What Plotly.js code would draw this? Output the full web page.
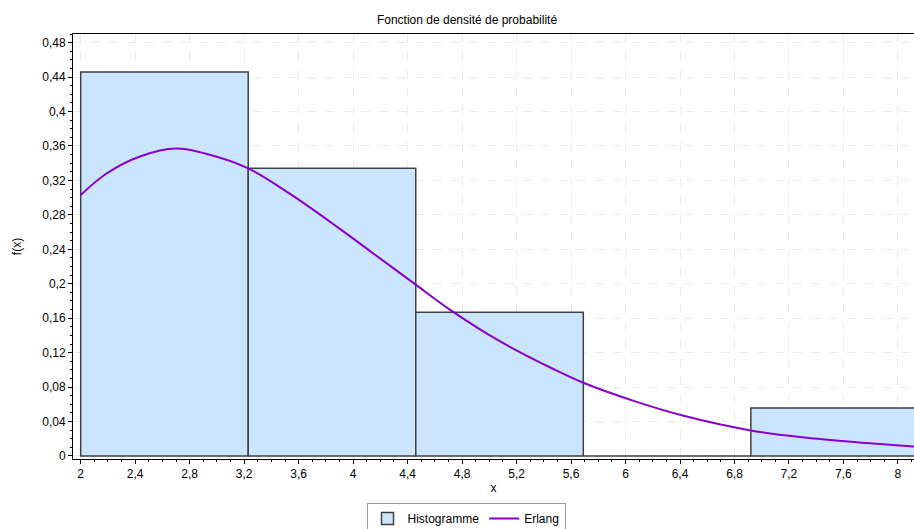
<!DOCTYPE html>
<html>
<head>
<meta charset="utf-8">
<script src="https://cdn.plot.ly/plotly-3.0.1.min.js"></script>
<style>html,body{margin:0;padding:0;background:#fff;}#chart{width:914px;height:529px;}</style>
</head>
<body>
<div id="chart"></div>
<script>
// Histogram bin edges and densities
const binEdges = [2, 3.23, 4.46, 5.69, 6.92, 8.15];
const histDensity = [0.446, 0.334, 0.167, 0, 0.0557];

// Erlang density curve
const erlangX = [2.00, 2.19, 2.44, 2.70, 2.92, 3.23, 3.54, 3.90, 4.27, 4.46, 4.71, 5.08, 5.47, 5.69, 6.06, 6.42, 6.91, 7.28, 7.77, 8.12];
const erlangY = [0.303, 0.328, 0.348, 0.357, 0.351, 0.334, 0.304, 0.264, 0.221, 0.199, 0.170, 0.133, 0.101, 0.085, 0.064, 0.047, 0.030, 0.022, 0.015, 0.011];

const yTicks = [0, 0.04, 0.08, 0.12, 0.16, 0.2, 0.24, 0.28, 0.32, 0.36, 0.4, 0.44, 0.48];
const xTicks = [2, 2.4, 2.8, 3.2, 3.6, 4, 4.4, 4.8, 5.2, 5.6, 6, 6.4, 6.8, 7.2, 7.6, 8];

const centers = [], widths = [];
for (let i = 0; i < histDensity.length; i++) {
  centers.push((binEdges[i] + binEdges[i + 1]) / 2);
  widths.push(binEdges[i + 1] - binEdges[i]);
}

const font = {family: 'Liberation Sans, Arial, sans-serif', size: 12, color: '#000'};

const traces = [
  {
    type: 'bar', name: 'Histogramme', x: centers, y: histDensity, width: widths,
    marker: {color: '#cce5ff', line: {color: '#404040', width: 1.5}},
    hoverinfo: 'x+y'
  },
  {
    type: 'scatter', mode: 'lines', name: 'Erlang', x: erlangX, y: erlangY,
    line: {color: '#8800cc', width: 2, shape: 'spline', smoothing: 1}
  }
];

const layout = {
  width: 914, height: 529,
  margin: {l: 73, r: 0, t: 34, b: 70},
  paper_bgcolor: '#fff', plot_bgcolor: '#fff',
  separators: ', ',
  font: font,
  title: {text: 'Fonction de densité de probabilité', font: {family: font.family, size: 12, color: '#000'},
          x: 467 / 914, xref: 'container', xanchor: 'center', y: 1 - 20 / 529, yref: 'container', yanchor: 'middle'},
  bargap: 0,
  showlegend: true,
  legend: {orientation: 'h', xref: 'container', yref: 'container', x: 466 / 914, xanchor: 'center',
           y: 1 - 503 / 529, yanchor: 'top', bordercolor: '#999', borderwidth: 1, font: font,
           tracegroupgap: 0, itemwidth: 30},
  xaxis: {
    range: [1.9435, 8.118], tickvals: xTicks, ticktext: xTicks.map(v => String(v).replace('.', ',')),
    showgrid: true, gridcolor: '#ebebeb', griddash: 'dash', gridwidth: 1,
    zeroline: false, showline: true, linecolor: '#000', linewidth: 1, mirror: true,
    ticks: 'outside', ticklen: 4, tickcolor: '#000', tickfont: font,
    minor: {dtick: 0.1, tick0: 2, ticks: 'outside', ticklen: 2, tickcolor: '#000', showgrid: false},
    title: {text: 'x', font: font, standoff: 3},
    fixedrange: true
  },
  yaxis: {
    range: [-0.0035, 0.490], tickvals: yTicks, ticktext: yTicks.map(v => String(v).replace('.', ',')),
    showgrid: true, gridcolor: '#ebebeb', griddash: 'dash', gridwidth: 1,
    zeroline: false, showline: true, linecolor: '#000', linewidth: 1,
    ticks: 'outside', ticklen: 4, tickcolor: '#000', tickfont: font,
    minor: {dtick: 0.01, tick0: 0, ticks: 'outside', ticklen: 2, tickcolor: '#000', showgrid: false},
    title: {text: 'f(x)', font: font, standoff: 18},
    fixedrange: true
  }
};

Plotly.newPlot('chart', traces, layout, {displayModeBar: false, staticPlot: true});
</script>
</body>
</html>
